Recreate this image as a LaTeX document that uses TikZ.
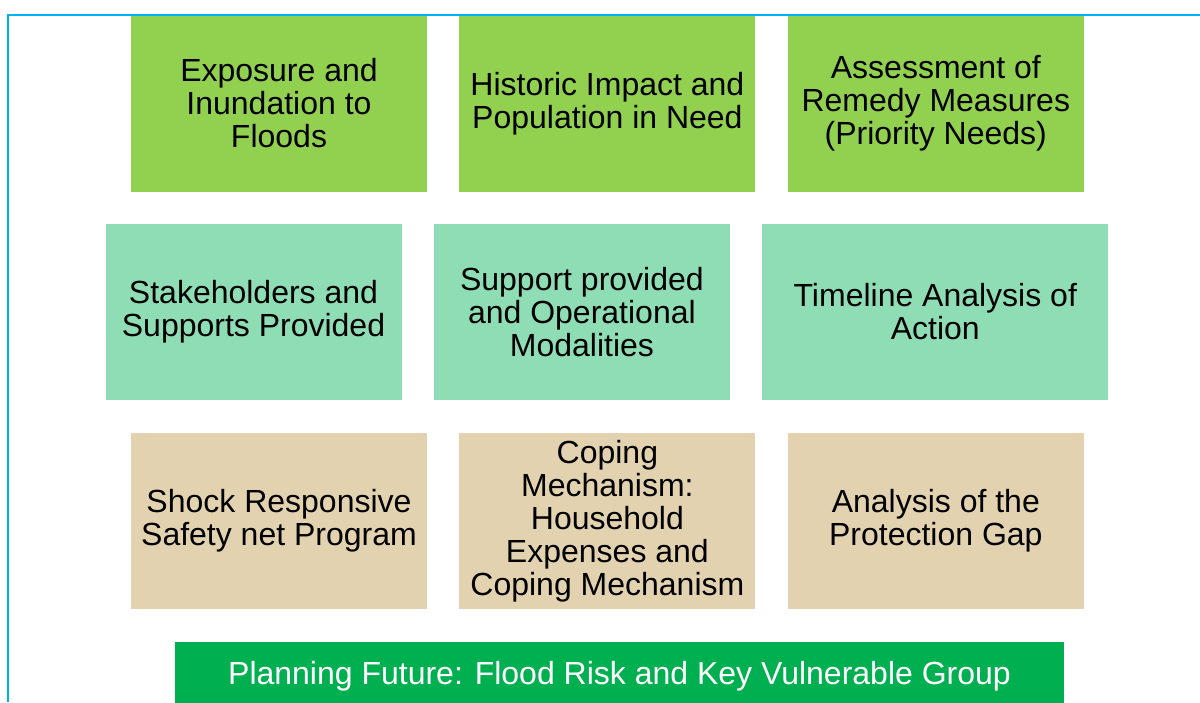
\documentclass[tikz,border=0pt]{standalone}
\usepackage{fontspec}
\setmainfont{Liberation Sans}
\usetikzlibrary{positioning}
\usepackage{xcolor}

\definecolor{leafgreen}{HTML}{92D050}
\definecolor{mintgreen}{HTML}{8EDDB5}
\definecolor{sandtan}{HTML}{E3D2AF}
\definecolor{bargreen}{HTML}{00B050}
\definecolor{framecyan}{HTML}{00B0F0}

\begin{document}
\begin{tikzpicture}[
		x=1pt, y=-1pt,
		% Style definitions
		cell/.style={minimum width=296pt, minimum height=176pt, inner sep=0pt, align=center, font=\fontsize{32}{33}\selectfont},
		hazard/.style={cell, fill=leafgreen},
		response/.style={cell, fill=mintgreen},
		coping/.style={cell, fill=sandtan},
		banner/.style={fill=bargreen, text=white, minimum width=889pt, minimum height=68pt, inner sep=0pt, font=\fontsize{32}{33}\selectfont},
		frame/.style={draw=framecyan, line width=2pt},
		% Gap between cells
		node distance=32pt,
		]
		\useasboundingbox (0,0) rectangle (1200,702);

		% === Outer frame (top and left edges only) ===
		\coordinate (frametr) at (1200,14.5);
		\coordinate (frametl) at (8,14.5);
		\coordinate (framebl) at (8,702);
		\draw[frame] (frametr) -- (frametl) -- (framebl);

		% === ROW 1: exposure and needs ===
		\node[hazard] (expo) at (279,103.5) {Exposure and\\Inundation to\\Floods};
		\node[hazard, right=of expo] (impact) {Historic Impact and\\Population in Need};
		\node[hazard, right=of impact] (remedy) {Assessment of\\Remedy Measures\\(Priority Needs)};

		% === ROW 2: support and timeline (shifted left) ===
		\node[response] (stake) at (253.5,312) {Stakeholders and\\Supports Provided};
		\node[response, right=of stake] (support) {Support provided\\and Operational\\Modalities};
		\node[response, minimum width=346pt, right=of support] (timeline) {Timeline Analysis of\\Action};

		% === ROW 3: safety net and gaps ===
		\node[coping] (safety) at (279,521) {Shock Responsive\\Safety net Program};
		\node[coping, right=of safety] (mech) {Coping\\Mechanism:\\Household\\Expenses and\\Coping Mechanism};
		\node[coping, right=of mech] (gap) {Analysis of the\\Protection Gap};

		% === Bottom banner ===
		\node[banner] (future) at (619.5,676) {Planning Future: Flood Risk and Key Vulnerable Group};

	\end{tikzpicture}
\end{document}
